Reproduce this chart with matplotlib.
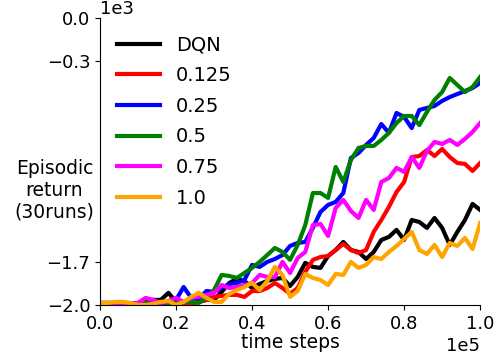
import numpy as np
import matplotlib
matplotlib.use("Agg")
import matplotlib.pyplot as plt

steps = np.arange(0, 100001, 2000)

labels = ["DQN", "0.125", "0.25", "0.5", "0.75", "1.0"]
colors = ["black", "red", "blue", "green", "magenta", "orange"]

dqn = [-1993, -1993, -1993, -1993, -1993, -1986, -1972, -1965, -1965, -1916,
       -1979, -1986, -1986, -1979, -1965, -1965, -1909, -1847, -1819, -1833,
       -1882, -1854, -1833, -1819, -1812, -1868, -1805, -1707, -1735, -1742,
       -1659, -1617, -1561, -1617, -1631, -1680, -1631, -1547, -1526, -1477,
       -1547, -1408, -1422, -1463, -1394, -1463, -1582, -1491, -1408, -1296,
       -1338]
r0125 = [-1993, -1993, -1993, -1993, -1993, -1993, -1993, -1986, -1986, -1986,
         -1986, -1986, -1986, -1979, -1965, -1944, -1937, -1930, -1930, -1944,
         -1903, -1903, -1882, -1847, -1882, -1923, -1882, -1770, -1686, -1666,
         -1659, -1617, -1575, -1617, -1638, -1617, -1491, -1408, -1317, -1213,
         -1143, -969, -962, -920, -962, -913, -969, -1011, -1017, -1066,
         -1011]
r025 = [-1986, -1986, -1986, -1993, -1993, -1986, -1986, -1979, -1986, -1979,
        -1965, -1875, -1951, -1958, -1903, -1909, -1882, -1854, -1847, -1826,
        -1721, -1735, -1700, -1680, -1652, -1589, -1568, -1561, -1463, -1352,
        -1303, -1282, -1220, -976, -941, -885, -836, -739, -801, -662,
        -690, -767, -641, -627, -613, -578, -551, -530, -509, -488,
        -453]
r05 = [-1986, -1986, -1986, -1993, -1993, -1993, -1986, -1979, -1979, -1986,
       -1986, -1979, -1979, -1986, -1951, -1896, -1791, -1798, -1812, -1777,
       -1742, -1700, -1652, -1603, -1631, -1686, -1582, -1443, -1220, -1220,
       -1254, -1038, -1143, -990, -906, -892, -892, -850, -801, -732,
       -683, -683, -746, -655, -571, -516, -418, -467, -516, -481,
       -411]
r075 = [-1993, -1993, -1993, -1993, -1993, -1986, -1951, -1965, -1986, -1972,
        -1951, -1979, -1951, -1944, -1930, -1916, -1861, -1882, -1875, -1861,
        -1847, -1791, -1805, -1805, -1700, -1777, -1673, -1631, -1443, -1436,
        -1519, -1324, -1268, -1345, -1394, -1268, -1338, -1143, -1115, -1045,
        -1073, -969, -1045, -927, -864, -878, -850, -885, -843, -794,
        -732]
r10 = [-1986, -1986, -1979, -1979, -1986, -2000, -2000, -1993, -1979, -1972,
       -2000, -1979, -1944, -1916, -1951, -1979, -1979, -1923, -1896, -1875,
       -1847, -1896, -1833, -1735, -1791, -1944, -1903, -1784, -1812, -1826,
       -1861, -1784, -1791, -1700, -1742, -1721, -1666, -1680, -1631, -1589,
       -1540, -1491, -1617, -1645, -1582, -1666, -1568, -1589, -1533, -1610,
       -1429]

series = [dqn, r0125, r025, r05, r075, r10]

fig = plt.figure(figsize=(4.95, 3.6), dpi=100)
ax = fig.add_axes([0.202, 0.153, 0.768, 0.797])

for lab, col, vals in zip(labels, colors, series):
    ax.plot(steps, vals, color=col, lw=3, label=lab)

ax.set_xlim(0, 100000)
ax.set_ylim(-2000, 0)
ax.set_yticks([-2000, -1700, -300, 0])
ax.set_xticks([0, 20000, 40000, 60000, 80000, 100000])
ax.ticklabel_format(style="sci", axis="both", scilimits=(0, 0))
ax.tick_params(labelsize=13)
ax.xaxis.get_offset_text().set_fontsize(13)
ax.yaxis.get_offset_text().set_fontsize(13)

for s in ["top", "right"]:
    ax.spines[s].set_visible(False)

ax.set_xlabel("time steps", fontsize=13.5, labelpad=0)
ax.set_ylabel("Episodic\nreturn\n(30runs)", fontsize=13.5, rotation=0,
              ha="center", va="center")
ax.yaxis.set_label_coords(-0.12, 0.40)

ax.legend(loc="upper left", frameon=False, fontsize=14, handlelength=2.2,
          labelspacing=0.6)

fig.savefig("out.png", dpi=100)
